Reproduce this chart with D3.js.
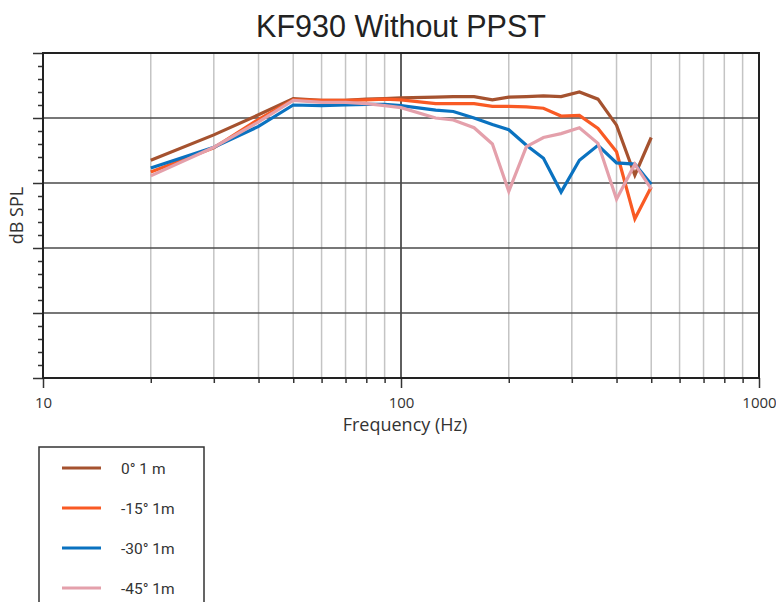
<!DOCTYPE html>
<html><head><meta charset="utf-8">
<script src="https://cdn.jsdelivr.net/npm/d3@7"></script>
<style>body{margin:0;background:#fff;} svg{display:block;}</style>
</head><body>
<svg id="c" width="776" height="602"></svg>
<script>
const freqs = [20,30,40,50,60,70,80,90,100,125,140,160,180,200,224,250,280,315,355,400,450,500];
const s0   = [33.5,37.4,40.5,43.0,42.7,42.7,42.9,43.0,43.1,43.2,43.3,43.3,42.8,43.2,43.3,43.4,43.3,44.0,42.9,38.9,31.2,37.0];
const s15  = [31.7,35.4,39.8,42.8,42.7,42.7,42.8,42.9,42.8,42.2,42.2,42.2,41.8,41.8,41.7,41.5,40.3,40.4,38.4,34.8,24.5,29.4];
const s30  = [32.3,35.5,38.7,42.0,41.9,42.0,42.1,42.1,41.9,41.2,41.0,40.0,39.0,38.2,35.8,33.8,28.6,33.5,35.8,33.1,32.9,29.8];
const s45  = [31.1,35.5,39.4,42.7,42.4,42.4,42.2,41.9,41.6,40.0,39.7,38.5,36.0,28.7,35.6,37.0,37.6,38.5,36.1,27.5,32.9,29.1];
const seriesNames = ["0° 1 m","-15° 1m","-30° 1m","-45° 1m"];
const seriesColors = ["#a5522f","#f95a24","#0a72c0","#e4a0ab"];
const xTickLabels = [10,100,1000];

const svg = d3.select("#c");
const L=43,R=759,T=53,B=378;
const x = d3.scaleLog().domain([10,1000]).range([L,R]);
const y = d3.scaleLinear().domain([0,50]).range([B,T]);

// vertical grid
const minorF=[];
for (let d of [10,100]) for (let k=2;k<=9;k++) minorF.push(d*k);
svg.append("g").selectAll("line").data(minorF).join("line")
  .attr("x1",d=>x(d)).attr("x2",d=>x(d)).attr("y1",T).attr("y2",B)
  .attr("stroke","#c4c4c4").attr("stroke-width",1.5);
svg.append("line").attr("x1",x(100)).attr("x2",x(100)).attr("y1",T).attr("y2",B)
  .attr("stroke","#2a2a2a").attr("stroke-width",1.5);
// horizontal grid
svg.append("g").selectAll("line").data([10,20,30,40]).join("line")
  .attr("x1",L).attr("x2",R).attr("y1",d=>y(d)).attr("y2",d=>y(d))
  .attr("stroke","#4a4a4a").attr("stroke-width",1.5);

// y axis ticks via d3 axis
const yMinor = d3.range(0,51,2).filter(v=>v%10!==0);
const yAxisMinor = d3.axisLeft(y).tickValues(yMinor).tickSize(5).tickFormat("");
const yAxisMajor = d3.axisLeft(y).tickValues([0,10,20,30,40,50]).tickSize(10).tickFormat("");
[yAxisMinor,yAxisMajor].forEach(a=>{
  const g=svg.append("g").attr("transform",`translate(${L},0)`).call(a);
  g.select(".domain").remove();
  g.selectAll("line").attr("stroke","#333").attr("stroke-width",1.5);
});
// x axis ticks
const xAxisMinor = d3.axisBottom(x).tickValues(minorF).tickSize(5).tickFormat("");
const xAxisMajor = d3.axisBottom(x).tickValues(xTickLabels).tickSize(10).tickFormat(d3.format("d")).tickPadding(6);
{
  const g=svg.append("g").attr("transform",`translate(0,${B})`).call(xAxisMinor);
  g.select(".domain").remove();
  g.selectAll("line").attr("stroke","#333").attr("stroke-width",1.5);
  const g2=svg.append("g").attr("transform",`translate(0,${B})`).call(xAxisMajor);
  g2.select(".domain").remove();
  g2.selectAll("line").attr("stroke","#333").attr("stroke-width",1.5);
  g2.selectAll("text").attr("font-family","'Open Sans',sans-serif").attr("font-size",15).attr("fill","#333").attr("dy","0.9em");
}

// frame
svg.append("rect").attr("x",L).attr("y",T).attr("width",R-L).attr("height",B-T)
  .attr("fill","none").attr("stroke","#222").attr("stroke-width",2);

// lines
const all=[s0,s15,s30,s45];
const line = d3.line().x((d,i)=>x(freqs[i])).y(d=>y(d));
[0,1,2,3].forEach(i=>{
  svg.append("path").datum(all[i]).attr("d",line).attr("fill","none")
    .attr("stroke",seriesColors[i]).attr("stroke-width",3.2).attr("stroke-linejoin","miter");
});

// title
svg.append("text").attr("x",401).attr("y",37).attr("text-anchor","middle")
  .attr("font-family","'Liberation Sans',Arial,sans-serif").attr("font-size",30.5).attr("fill","#222")
  .text("KF930 Without PPST");
svg.append("text").attr("x",405).attr("y",431).attr("text-anchor","middle")
  .attr("font-family","'Open Sans',sans-serif").attr("font-size",18).attr("fill","#333")
  .text("Frequency (Hz)");
svg.append("text").attr("transform",`translate(23,${(T+B)/2}) rotate(-90)`).attr("text-anchor","middle")
  .attr("font-family","'Open Sans',sans-serif").attr("font-size",18).attr("fill","#333")
  .text("dB SPL");

// legend
const lg = svg.append("g");
lg.append("rect").attr("x",39).attr("y",447).attr("width",165).attr("height",170)
  .attr("fill","#fff").attr("stroke","#333").attr("stroke-width",1.5);
seriesNames.forEach((n,i)=>{
  const yy=468+i*40;
  lg.append("line").attr("x1",62).attr("x2",101).attr("y1",yy).attr("y2",yy)
    .attr("stroke",seriesColors[i]).attr("stroke-width",3);
  lg.append("text").attr("x",121).attr("y",yy+5.5).attr("font-family","Roboto,sans-serif")
    .attr("font-size",15.5).attr("fill","#333").text(n);
});
</script>
</body></html>
